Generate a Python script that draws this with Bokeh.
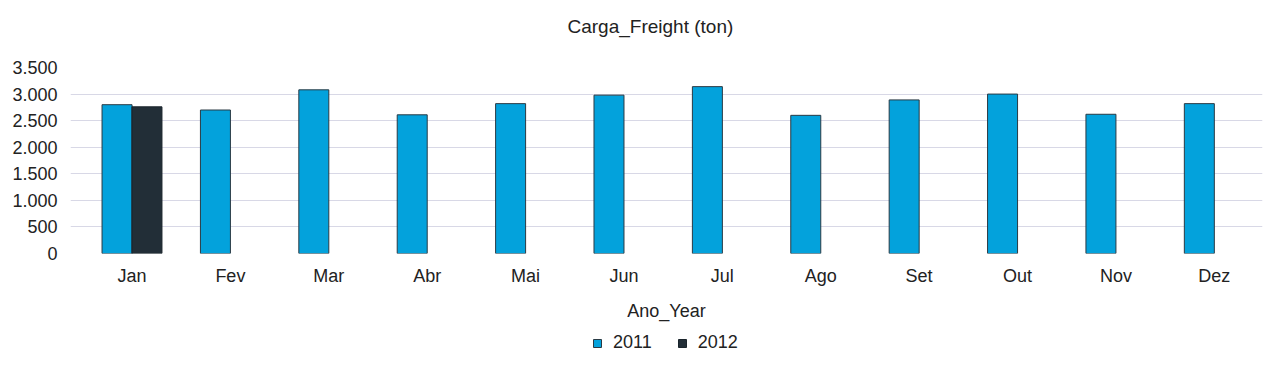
from bokeh.plotting import figure
from bokeh.layouts import column
from bokeh.models import ColumnDataSource, Range1d, FixedTicker, Legend, LegendItem
from bokeh.transform import dodge
from bokeh.embed import file_html
from bokeh.resources import INLINE

months = ["Jan", "Fev", "Mar", "Abr", "Mai", "Jun", "Jul", "Ago", "Set", "Out", "Nov", "Dez"]
v2011 = [2800, 2700, 3080, 2610, 2820, 2980, 3140, 2600, 2890, 3000, 2620, 2820]
v2012 = [2760]
y_ticks = [0, 500, 1000, 1500, 2000, 2500, 3000, 3500]
y_tick_labels = ["0", "500", "1.000", "1.500", "2.000", "2.500", "3.000", "3.500"]
series = ["2011", "2012"]

FONT = "Liberation Sans"
C2011 = "#03A2DC"
C2012 = "#222E37"
L2011 = "#2a3a44"
L2012 = "#1a242b"

src11 = ColumnDataSource(dict(x=list(range(len(v2011))), y=v2011))
src12 = ColumnDataSource(dict(x=list(range(len(v2012))), y=v2012))

p = figure(width=1265, height=325, output_backend="svg", toolbar_location=None,
           x_range=Range1d(-0.625, 11.49), y_range=Range1d(0, 3500),
           min_border_left=70, min_border_right=3, min_border_top=67, min_border_bottom=72)

bw = 0.305
r1 = p.vbar(x=dodge("x", -0.152, range=p.x_range), top="y", width=bw, source=src11,
            fill_color=C2011, line_color=L2011, line_width=1)
r2 = p.vbar(x=dodge("x", 0.152, range=p.x_range), top="y", width=bw, source=src12,
            fill_color=C2012, line_color=L2012, line_width=1)

p.title.text = "Carga_Freight (ton)\n"
p.title.align = "left"
p.title.offset = 497
p.title.vertical_align = "top"
p.title.text_font = FONT
p.title.text_font_size = "19px"
p.title.text_font_style = "normal"
p.title.text_color = "#222222"
p.title.standoff = 16

p.xaxis.ticker = FixedTicker(ticks=list(range(len(months))))
p.xaxis.major_label_overrides = {i: m for i, m in enumerate(months)}
p.xaxis.axis_label = "Ano_Year"
p.yaxis.ticker = FixedTicker(ticks=y_ticks)
p.yaxis.major_label_overrides = {t: l for t, l in zip(y_ticks, y_tick_labels)}

for ax in (p.xaxis[0], p.yaxis[0]):
    ax.axis_line_color = None
    ax.major_tick_line_color = None
    ax.minor_tick_line_color = None
    ax.major_label_text_font = FONT
    ax.major_label_text_font_size = "18px"
    ax.major_label_text_color = "#222222"
    ax.axis_label_text_font = FONT
    ax.axis_label_text_font_size = "18px"
    ax.axis_label_text_font_style = "normal"
    ax.axis_label_text_color = "#222222"
p.xaxis.major_label_standoff = 6
p.xaxis.axis_label_standoff = 12
p.yaxis.major_label_standoff = 7

p.xgrid.grid_line_color = None
p.ygrid.grid_line_color = "#d8d8e6"
p.ygrid.ticker = FixedTicker(ticks=y_ticks)
p.outline_line_color = None

# legend strip below the chart (its series renderers are hidden; only the legend shows)
pl = figure(width=1265, height=40, output_backend="svg", toolbar_location=None,
            x_range=Range1d(5000, 5001), y_range=Range1d(5000, 5001),
            min_border_left=0, min_border_right=0, min_border_top=0, min_border_bottom=0)
pl.axis.visible = False
pl.grid.grid_line_color = None
pl.outline_line_color = None
g1 = pl.vbar(x="x", top="y", width=bw, source=src11, fill_color=C2011, line_color=L2011)
g2 = pl.vbar(x="x", top="y", width=bw, source=src12, fill_color=C2012, line_color=L2012)
g1.visible = False
g2.visible = False

legend = Legend(items=[LegendItem(label=series[0], renderers=[g1]),
                       LegendItem(label=series[1], renderers=[g2])],
                orientation="horizontal", location=(522, 12),
                label_text_font=FONT, label_text_font_size="18px", label_text_color="#222222",
                glyph_width=10, glyph_height=10, spacing=25, label_standoff=11,
                inactive_fill_alpha=0,
                border_line_color=None, background_fill_alpha=0, padding=4, margin=0)
pl.add_layout(legend, "center")

layout = column(p, pl, spacing=0)
open("out.html", "w").write(file_html(layout, INLINE))
